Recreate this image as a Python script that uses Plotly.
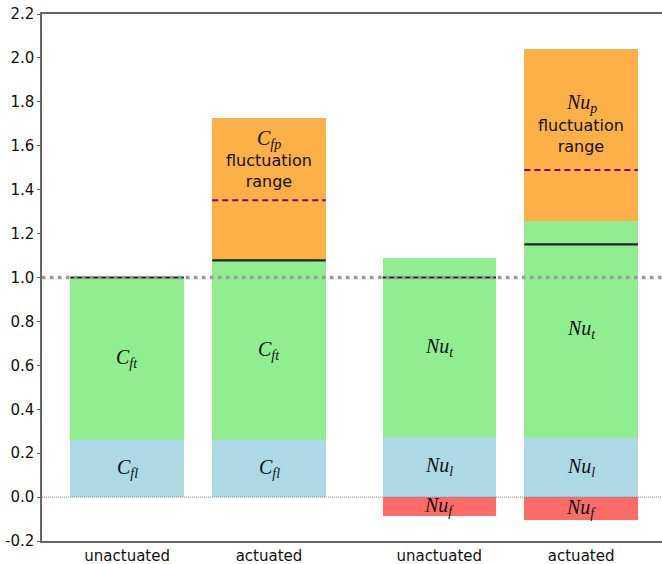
import plotly.graph_objects as go

# ---- data ----
categories = ["unactuated", "actuated", "unactuated", "actuated"]
laminar = [0.26, 0.26, 0.275, 0.27]          # C_fl / Nu_l
turbulent = [0.74, 0.818, 0.812, 0.986]      # C_ft / Nu_t
fluctuation = [0.0, 0.648, 0.0, 0.785]       # C_fp / Nu_p
negative = [0.0, 0.0, -0.087, -0.105]        # Nu_f
mean_total = [1.0, 1.078, 1.0, 1.151]        # black solid lines
fluct_mean = [None, 1.352, None, 1.489]      # purple dashed lines

lam_labels = ["C|fl", "C|fl", "Nu|l", "Nu|l"]
turb_labels = ["C|ft", "C|ft", "Nu|t", "Nu|t"]
fluct_labels = [None, "C|fp", None, "Nu|p"]
neg_labels = [None, None, "Nu|f", "Nu|f"]

# ---- layout constants ----
positions = [0, 1, 2.2, 3.2]
bar_w = 0.8
fluct_text_y = [None, 1.53, None, 1.69]


def math(lbl):
    base, sub = lbl.split("|")
    return f"<i>{base}</i><sub><i>{sub}</i></sub>"


fig = go.Figure()
fig.add_trace(go.Bar(x=positions, y=laminar, width=bar_w, marker_color="#ADD8E6",
                     marker_line_width=0, showlegend=False))
fig.add_trace(go.Bar(x=positions, y=turbulent, width=bar_w, marker_color="#90EE90",
                     marker_line_width=0, showlegend=False))
fig.add_trace(go.Bar(x=positions, y=fluctuation, width=bar_w, marker_color="#FDAF48",
                     marker_line_width=0, showlegend=False))
fig.add_trace(go.Bar(x=positions, y=negative, width=bar_w, marker_color="#FF6B66",
                     marker_line_width=0, showlegend=False))

for i, p in enumerate(positions):
    fig.add_trace(go.Scatter(x=[p - bar_w / 2, p + bar_w / 2], y=[mean_total[i]] * 2,
                             mode="lines", line=dict(color="#222222", width=2.2),
                             showlegend=False, hoverinfo="skip"))
    if fluct_mean[i] is not None:
        fig.add_trace(go.Scatter(x=[p - bar_w / 2, p + bar_w / 2], y=[fluct_mean[i]] * 2,
                                 mode="lines", line=dict(color="#800080", width=2, dash="6px,4px"),
                                 showlegend=False, hoverinfo="skip"))

mfont = dict(family="Liberation Serif, DejaVu Serif, serif", size=20, color="#111")
sfont = dict(family="DejaVu Sans, sans-serif", size=16, color="#111")

for i, p in enumerate(positions):
    fig.add_annotation(x=p, y=laminar[i] / 2, text=math(lam_labels[i]), showarrow=False, font=mfont)
    fig.add_annotation(x=p, y=laminar[i] + turbulent[i] / 2, text=math(turb_labels[i]),
                       showarrow=False, font=mfont)
    if neg_labels[i]:
        fig.add_annotation(x=p, y=negative[i] / 2, text=math(neg_labels[i]), showarrow=False, font=mfont)
    if fluct_labels[i]:
        fig.add_annotation(x=p, y=fluct_text_y[i], yshift=22, text=math(fluct_labels[i]),
                           showarrow=False, font=mfont)
        fig.add_annotation(x=p, y=fluct_text_y[i], text="fluctuation<br>range", showarrow=False,
                           font=sfont, yshift=-10)

# reference lines
fig.add_shape(type="line", xref="paper", x0=0, x1=1, yref="y", y0=1.0, y1=1.0,
              line=dict(color="#9a9a9a", width=3.5, dash="3.5px,4.5px"), layer="above")
fig.add_shape(type="line", xref="paper", x0=0, x1=1, yref="y", y0=0.0, y1=0.0,
              line=dict(color="#888888", width=1, dash="1px,1px"), layer="above")

fig.update_layout(
    barmode="relative",
    bargap=0,
    width=662, height=564,
    margin=dict(l=42, r=0, t=14, b=23, autoexpand=False),
    plot_bgcolor="white", paper_bgcolor="white",
    font=dict(family="DejaVu Sans, sans-serif", size=15, color="#111"),
)
fig.update_xaxes(range=[-0.6, 3.77], tickvals=positions, ticktext=categories,
                 showline=True, linecolor="#666", linewidth=1.5, mirror=True,
                 ticks="", showgrid=False, zeroline=False,
                 tickfont=dict(size=15), automargin=False)
fig.update_yaxes(range=[-0.2, 2.2], tickvals=[-0.2, 0, 0.2, 0.4, 0.6, 0.8, 1.0, 1.2, 1.4, 1.6, 1.8, 2.0, 2.2],
                 ticktext=["-0.2", "0.0", "0.2", "0.4", "0.6", "0.8", "1.0", "1.2", "1.4", "1.6", "1.8", "2.0", "2.2"],
                 showline=True, linecolor="#666", linewidth=1.5,
                 ticks="outside", ticklen=3, tickcolor="#666", showgrid=False, zeroline=False,
                 tickfont=dict(size=15), automargin=False, ticklabeloverflow="allow")

# remove the page's default body margin so the 662x564 figure fills the window exactly
fig.write_html("out.html", config={"displayModeBar": False},
               post_script="document.body.style.margin='0';document.body.style.overflow='hidden';")
